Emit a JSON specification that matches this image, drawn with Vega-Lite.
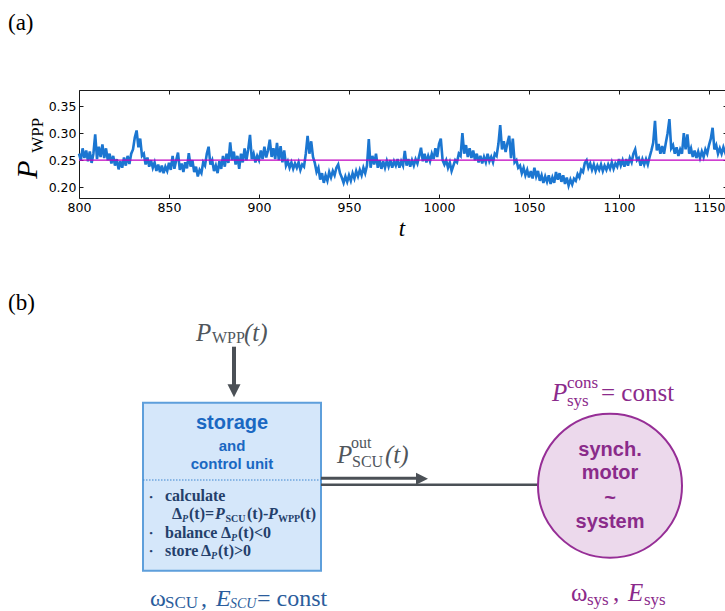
{
"$schema": "https://vega.github.io/schema/vega-lite/v6.json",
"width": 648,
"height": 108,
"padding": 0,
"autosize": {"type": "pad"},
"background": "white",
"datasets": {
"ts": [
{"t":800,"P":0.262},{"t":801,"P":0.250},{"t":802,"P":0.272},{"t":803,"P":0.254},{"t":804,"P":0.268},{"t":805,"P":0.248},{"t":806,"P":0.266},{"t":807,"P":0.245},{"t":808,"P":0.262},{"t":809,"P":0.298},
{"t":810,"P":0.252},{"t":811,"P":0.275},{"t":812,"P":0.256},{"t":813,"P":0.279},{"t":814,"P":0.254},{"t":815,"P":0.272},{"t":816,"P":0.250},{"t":817,"P":0.262},{"t":818,"P":0.244},{"t":819,"P":0.258},
{"t":820,"P":0.240},{"t":821,"P":0.252},{"t":822,"P":0.233},{"t":823,"P":0.248},{"t":824,"P":0.236},{"t":825,"P":0.255},{"t":826,"P":0.240},{"t":827,"P":0.258},{"t":828,"P":0.243},{"t":829,"P":0.262},
{"t":830,"P":0.270},{"t":831,"P":0.292},{"t":832,"P":0.305},{"t":833,"P":0.274},{"t":834,"P":0.290},{"t":835,"P":0.258},{"t":836,"P":0.262},{"t":837,"P":0.242},{"t":838,"P":0.255},{"t":839,"P":0.238},
{"t":840,"P":0.250},{"t":841,"P":0.236},{"t":842,"P":0.246},{"t":843,"P":0.230},{"t":844,"P":0.242},{"t":845,"P":0.228},{"t":846,"P":0.240},{"t":847,"P":0.226},{"t":848,"P":0.238},{"t":849,"P":0.230},
{"t":850,"P":0.245},{"t":851,"P":0.232},{"t":852,"P":0.258},{"t":853,"P":0.234},{"t":854,"P":0.250},{"t":855,"P":0.264},{"t":856,"P":0.232},{"t":857,"P":0.244},{"t":858,"P":0.228},{"t":859,"P":0.246},
{"t":860,"P":0.235},{"t":861,"P":0.263},{"t":862,"P":0.238},{"t":863,"P":0.250},{"t":864,"P":0.228},{"t":865,"P":0.238},{"t":866,"P":0.220},{"t":867,"P":0.232},{"t":868,"P":0.226},{"t":869,"P":0.246},
{"t":870,"P":0.240},{"t":871,"P":0.262},{"t":872,"P":0.275},{"t":873,"P":0.242},{"t":874,"P":0.250},{"t":875,"P":0.230},{"t":876,"P":0.240},{"t":877,"P":0.226},{"t":878,"P":0.248},{"t":879,"P":0.234},
{"t":880,"P":0.258},{"t":881,"P":0.238},{"t":882,"P":0.262},{"t":883,"P":0.245},{"t":884,"P":0.283},{"t":885,"P":0.250},{"t":886,"P":0.266},{"t":887,"P":0.242},{"t":888,"P":0.258},{"t":889,"P":0.234},
{"t":890,"P":0.262},{"t":891,"P":0.246},{"t":892,"P":0.272},{"t":893,"P":0.250},{"t":894,"P":0.270},{"t":895,"P":0.297},{"t":896,"P":0.252},{"t":897,"P":0.262},{"t":898,"P":0.246},{"t":899,"P":0.258},
{"t":900,"P":0.250},{"t":901,"P":0.268},{"t":902,"P":0.252},{"t":903,"P":0.275},{"t":904,"P":0.255},{"t":905,"P":0.268},{"t":906,"P":0.288},{"t":907,"P":0.256},{"t":908,"P":0.272},{"t":909,"P":0.252},
{"t":910,"P":0.282},{"t":911,"P":0.250},{"t":912,"P":0.276},{"t":913,"P":0.246},{"t":914,"P":0.268},{"t":915,"P":0.240},{"t":916,"P":0.248},{"t":917,"P":0.236},{"t":918,"P":0.246},{"t":919,"P":0.234},
{"t":920,"P":0.244},{"t":921,"P":0.236},{"t":922,"P":0.246},{"t":923,"P":0.232},{"t":924,"P":0.242},{"t":925,"P":0.238},{"t":926,"P":0.262},{"t":927,"P":0.295},{"t":928,"P":0.262},{"t":929,"P":0.285},
{"t":930,"P":0.256},{"t":931,"P":0.245},{"t":932,"P":0.228},{"t":933,"P":0.236},{"t":934,"P":0.214},{"t":935,"P":0.226},{"t":936,"P":0.208},{"t":937,"P":0.222},{"t":938,"P":0.212},{"t":939,"P":0.228},
{"t":940,"P":0.218},{"t":941,"P":0.230},{"t":942,"P":0.222},{"t":943,"P":0.236},{"t":944,"P":0.242},{"t":945,"P":0.226},{"t":946,"P":0.218},{"t":947,"P":0.208},{"t":948,"P":0.220},{"t":949,"P":0.210},
{"t":950,"P":0.222},{"t":951,"P":0.212},{"t":952,"P":0.226},{"t":953,"P":0.216},{"t":954,"P":0.230},{"t":955,"P":0.220},{"t":956,"P":0.232},{"t":957,"P":0.222},{"t":958,"P":0.236},{"t":959,"P":0.226},
{"t":960,"P":0.240},{"t":961,"P":0.289},{"t":962,"P":0.236},{"t":963,"P":0.258},{"t":964,"P":0.242},{"t":965,"P":0.262},{"t":966,"P":0.236},{"t":967,"P":0.250},{"t":968,"P":0.234},{"t":969,"P":0.248},
{"t":970,"P":0.236},{"t":971,"P":0.249},{"t":972,"P":0.238},{"t":973,"P":0.250},{"t":974,"P":0.236},{"t":975,"P":0.248},{"t":976,"P":0.240},{"t":977,"P":0.252},{"t":978,"P":0.236},{"t":979,"P":0.248},
{"t":980,"P":0.240},{"t":981,"P":0.267},{"t":982,"P":0.240},{"t":983,"P":0.252},{"t":984,"P":0.238},{"t":985,"P":0.250},{"t":986,"P":0.240},{"t":987,"P":0.252},{"t":988,"P":0.244},{"t":989,"P":0.258},
{"t":990,"P":0.273},{"t":991,"P":0.248},{"t":992,"P":0.262},{"t":993,"P":0.246},{"t":994,"P":0.258},{"t":995,"P":0.248},{"t":996,"P":0.262},{"t":997,"P":0.252},{"t":998,"P":0.272},{"t":999,"P":0.256},
{"t":1000,"P":0.280},{"t":1001,"P":0.290},{"t":1002,"P":0.250},{"t":1003,"P":0.242},{"t":1004,"P":0.250},{"t":1005,"P":0.236},{"t":1006,"P":0.246},{"t":1007,"P":0.230},{"t":1008,"P":0.240},{"t":1009,"P":0.250},
{"t":1010,"P":0.246},{"t":1011,"P":0.262},{"t":1012,"P":0.258},{"t":1013,"P":0.300},{"t":1014,"P":0.262},{"t":1015,"P":0.278},{"t":1016,"P":0.256},{"t":1017,"P":0.272},{"t":1018,"P":0.254},{"t":1019,"P":0.268},
{"t":1020,"P":0.250},{"t":1021,"P":0.262},{"t":1022,"P":0.246},{"t":1023,"P":0.258},{"t":1024,"P":0.244},{"t":1025,"P":0.256},{"t":1026,"P":0.246},{"t":1027,"P":0.262},{"t":1028,"P":0.248},{"t":1029,"P":0.256},
{"t":1030,"P":0.246},{"t":1031,"P":0.262},{"t":1032,"P":0.258},{"t":1033,"P":0.280},{"t":1034,"P":0.315},{"t":1035,"P":0.270},{"t":1036,"P":0.285},{"t":1037,"P":0.265},{"t":1038,"P":0.282},{"t":1039,"P":0.295},
{"t":1040,"P":0.254},{"t":1041,"P":0.290},{"t":1042,"P":0.246},{"t":1043,"P":0.250},{"t":1044,"P":0.236},{"t":1045,"P":0.240},{"t":1046,"P":0.226},{"t":1047,"P":0.236},{"t":1048,"P":0.222},{"t":1049,"P":0.232},
{"t":1050,"P":0.218},{"t":1051,"P":0.230},{"t":1052,"P":0.216},{"t":1053,"P":0.236},{"t":1054,"P":0.220},{"t":1055,"P":0.230},{"t":1056,"P":0.212},{"t":1057,"P":0.222},{"t":1058,"P":0.208},{"t":1059,"P":0.220},
{"t":1060,"P":0.210},{"t":1061,"P":0.222},{"t":1062,"P":0.206},{"t":1063,"P":0.218},{"t":1064,"P":0.208},{"t":1065,"P":0.228},{"t":1066,"P":0.214},{"t":1067,"P":0.226},{"t":1068,"P":0.210},{"t":1069,"P":0.222},
{"t":1070,"P":0.206},{"t":1071,"P":0.218},{"t":1072,"P":0.203},{"t":1073,"P":0.214},{"t":1074,"P":0.205},{"t":1075,"P":0.216},{"t":1076,"P":0.212},{"t":1077,"P":0.224},{"t":1078,"P":0.218},{"t":1079,"P":0.232},
{"t":1080,"P":0.228},{"t":1081,"P":0.245},{"t":1082,"P":0.250},{"t":1083,"P":0.236},{"t":1084,"P":0.244},{"t":1085,"P":0.232},{"t":1086,"P":0.242},{"t":1087,"P":0.230},{"t":1088,"P":0.240},{"t":1089,"P":0.232},
{"t":1090,"P":0.242},{"t":1091,"P":0.230},{"t":1092,"P":0.240},{"t":1093,"P":0.232},{"t":1094,"P":0.242},{"t":1095,"P":0.234},{"t":1096,"P":0.246},{"t":1097,"P":0.234},{"t":1098,"P":0.244},{"t":1099,"P":0.238},
{"t":1100,"P":0.252},{"t":1101,"P":0.240},{"t":1102,"P":0.250},{"t":1103,"P":0.238},{"t":1104,"P":0.252},{"t":1105,"P":0.240},{"t":1106,"P":0.254},{"t":1107,"P":0.246},{"t":1108,"P":0.262},{"t":1109,"P":0.270},
{"t":1110,"P":0.250},{"t":1111,"P":0.254},{"t":1112,"P":0.240},{"t":1113,"P":0.252},{"t":1114,"P":0.242},{"t":1115,"P":0.252},{"t":1116,"P":0.242},{"t":1117,"P":0.256},{"t":1118,"P":0.268},{"t":1119,"P":0.282},
{"t":1120,"P":0.323},{"t":1121,"P":0.268},{"t":1122,"P":0.280},{"t":1123,"P":0.262},{"t":1124,"P":0.276},{"t":1125,"P":0.262},{"t":1126,"P":0.282},{"t":1127,"P":0.300},{"t":1128,"P":0.326},{"t":1129,"P":0.272},
{"t":1130,"P":0.278},{"t":1131,"P":0.262},{"t":1132,"P":0.274},{"t":1133,"P":0.258},{"t":1134,"P":0.270},{"t":1135,"P":0.262},{"t":1136,"P":0.300},{"t":1137,"P":0.270},{"t":1138,"P":0.298},{"t":1139,"P":0.262},
{"t":1140,"P":0.272},{"t":1141,"P":0.256},{"t":1142,"P":0.268},{"t":1143,"P":0.254},{"t":1144,"P":0.266},{"t":1145,"P":0.254},{"t":1146,"P":0.266},{"t":1147,"P":0.256},{"t":1148,"P":0.270},{"t":1149,"P":0.262},
{"t":1150,"P":0.278},{"t":1151,"P":0.290},{"t":1152,"P":0.310},{"t":1153,"P":0.270},{"t":1154,"P":0.278},{"t":1155,"P":0.262},{"t":1156,"P":0.272},{"t":1157,"P":0.262},{"t":1158,"P":0.274},{"t":1159,"P":0.264},
{"t":1160,"P":0.270}
]
},
"layer": [
{
"encoding": {
 "x": {"field": "x", "type": "quantitative", "scale": {"domain": [79, 727], "nice": false, "zero": false}, "axis": null},
 "y": {"field": "y", "type": "quantitative", "scale": {"domain": [89.3, 197.3], "reverse": true, "nice": false, "zero": false}, "axis": null}
},
"layer": [
 {"data": {"values": [{"x": 0, "x2": 725, "y": 0, "y2": 611}]}, "mark": {"type": "rect", "color": "white", "opacity": 0}, "encoding": {"x2": {"field": "x2"}, "y2": {"field": "y2"}}},
 {"data": {"values": [{"x": 143, "x2": 321, "y": 402, "y2": 570}]}, "mark": {"type": "rect", "fill": "#d5e7fa", "stroke": "#5e9fdb", "strokeWidth": 2}, "encoding": {"x2": {"field": "x2"}, "y2": {"field": "y2"}}},
 {"data": {"values": [{"x": 143, "x2": 321, "y": 479.3}]}, "mark": {"type": "rule", "color": "#3d85d0", "strokeWidth": 1.2, "strokeDash": [1.5, 1.5]}, "encoding": {"x2": {"field": "x2"}}},
 {"data": {"values": [{"x": 234, "y": 346, "y2": 386}]}, "mark": {"type": "rule", "color": "#4b5056", "strokeWidth": 4}, "encoding": {"y2": {"field": "y2"}}},
 {"data": {"values": [{"x": 234, "y": 390}]}, "mark": {"type": "point", "shape": "M-1,-1L1,-1L0,1Z", "size": 169, "filled": true, "color": "#4b5056", "opacity": 1}},
 {"data": {"values": [{"x": 321, "x2": 418, "y": 477.5}]}, "mark": {"type": "rule", "color": "#4b5056", "strokeWidth": 3}, "encoding": {"x2": {"field": "x2"}}},
 {"data": {"values": [{"x": 321, "x2": 538, "y": 484}]}, "mark": {"type": "rule", "color": "#4b5056", "strokeWidth": 2.5}, "encoding": {"x2": {"field": "x2"}}},
 {"data": {"values": [{"x": 422, "y": 478}]}, "mark": {"type": "point", "shape": "M-1,-1L1,0L-1,1Z", "size": 144, "filled": true, "color": "#4b5056", "opacity": 1}},
 {"data": {"values": [{"x": 610, "y": 485}]}, "mark": {"type": "point", "shape": "circle", "size": 20736, "filled": true, "fill": "#ecd9ec", "stroke": "#962e96", "strokeWidth": 2, "opacity": 1}},
 {"data": {"values": [{"x": 8, "y": 29, "s": "(a)"}, {"x": 8, "y": 309, "s": "(b)"}]}, "mark": {"type": "text", "font": "Liberation Serif", "fontSize": 23, "color": "black", "align": "left", "baseline": "alphabetic"}, "encoding": {"text": {"field": "s"}}},
 {"data": {"values": [{"x": 37, "y": 178, "s": "P"}]}, "mark": {"type": "text", "font": "Liberation Serif", "fontStyle": "italic", "fontSize": 30, "angle": 270, "color": "black", "align": "left", "baseline": "alphabetic"}, "encoding": {"text": {"field": "s"}}},
 {"data": {"values": [{"x": 43, "y": 152, "s": "WPP"}]}, "mark": {"type": "text", "font": "Liberation Serif", "fontSize": 17, "angle": 270, "color": "black", "align": "left", "baseline": "alphabetic"}, "encoding": {"text": {"field": "s"}}},
 {"data": {"values": [{"x": 402, "y": 235, "s": "t"}]}, "mark": {"type": "text", "font": "Liberation Serif", "fontStyle": "italic", "fontSize": 23, "color": "black", "align": "center", "baseline": "alphabetic"}, "encoding": {"text": {"field": "s"}}},
 {"data": {"values": [{"x": 196, "y": 340, "s": "P"}, {"x": 244, "y": 340, "s": "(t)"}, {"x": 337, "y": 462, "s": "P"}, {"x": 385, "y": 462, "s": "(t)"}]}, "mark": {"type": "text", "font": "Liberation Serif", "fontStyle": "italic", "fontSize": 25, "color": "#50565c", "align": "left", "baseline": "alphabetic"}, "encoding": {"text": {"field": "s"}}},
 {"data": {"values": [{"x": 212, "y": 342, "s": "WPP"}, {"x": 352, "y": 466, "s": "SCU"}, {"x": 351, "y": 447, "s": "out"}]}, "mark": {"type": "text", "font": "Liberation Serif", "fontSize": 16, "color": "#50565c", "align": "left", "baseline": "alphabetic"}, "encoding": {"text": {"field": "s"}}},
 {"data": {"values": [{"x": 552, "y": 400, "s": "P"}, {"x": 628, "y": 600, "s": "E"}]}, "mark": {"type": "text", "font": "Liberation Serif", "fontStyle": "italic", "fontSize": 25, "color": "#8b2a8b", "align": "left", "baseline": "alphabetic"}, "encoding": {"text": {"field": "s"}}},
 {"data": {"values": [{"x": 601, "y": 400, "s": "= const"}, {"x": 571, "y": 600, "s": "ω"}, {"x": 613, "y": 600, "s": ","}]}, "mark": {"type": "text", "font": "Liberation Serif", "fontSize": 25, "color": "#8b2a8b", "align": "left", "baseline": "alphabetic"}, "encoding": {"text": {"field": "s"}}},
 {"data": {"values": [{"x": 567, "y": 387, "s": "cons"}, {"x": 567, "y": 405, "s": "sys"}, {"x": 587, "y": 604, "s": "sys"}, {"x": 644, "y": 604, "s": "sys"}]}, "mark": {"type": "text", "font": "Liberation Serif", "fontSize": 17, "color": "#8b2a8b", "align": "left", "baseline": "alphabetic"}, "encoding": {"text": {"field": "s"}}},
 {"data": {"values": [{"x": 150, "y": 605, "s": "ω"}, {"x": 201, "y": 605, "s": ","}, {"x": 257, "y": 605, "s": "= const"}]}, "mark": {"type": "text", "font": "Liberation Serif", "fontSize": 24, "color": "#2b5d9c", "align": "left", "baseline": "alphabetic"}, "encoding": {"text": {"field": "s"}}},
 {"data": {"values": [{"x": 216, "y": 605, "s": "E"}]}, "mark": {"type": "text", "font": "Liberation Serif", "fontStyle": "italic", "fontSize": 24, "color": "#2b5d9c", "align": "left", "baseline": "alphabetic"}, "encoding": {"text": {"field": "s"}}},
 {"data": {"values": [{"x": 165, "y": 607, "s": "SCU"}]}, "mark": {"type": "text", "font": "Liberation Serif", "fontSize": 17, "color": "#2b5d9c", "align": "left", "baseline": "alphabetic"}, "encoding": {"text": {"field": "s"}}},
 {"data": {"values": [{"x": 230, "y": 607, "s": "SCU"}]}, "mark": {"type": "text", "font": "Liberation Serif", "fontStyle": "italic", "fontSize": 14, "color": "#2b5d9c", "align": "left", "baseline": "alphabetic"}, "encoding": {"text": {"field": "s"}}},
 {"data": {"values": [{"x": 232, "y": 428, "s": "storage"}]}, "mark": {"type": "text", "font": "Liberation Sans", "fontWeight": "bold", "fontSize": 20, "color": "#1a68c2", "align": "center", "baseline": "alphabetic"}, "encoding": {"text": {"field": "s"}}},
 {"data": {"values": [{"x": 232, "y": 450, "s": "and"}, {"x": 232, "y": 468, "s": "control unit"}]}, "mark": {"type": "text", "font": "Liberation Sans", "fontWeight": "bold", "fontSize": 15, "color": "#1a68c2", "align": "center", "baseline": "alphabetic"}, "encoding": {"text": {"field": "s"}}},
 {"data": {"values": [{"x": 151, "y": 496}, {"x": 151, "y": 532.5}, {"x": 151, "y": 550.5}]}, "mark": {"type": "text", "text": "•", "font": "Liberation Serif", "fontWeight": "bold", "fontSize": 9, "color": "#243f6b", "align": "center", "baseline": "middle"}},
 {"data": {"values": [{"x": 165, "y": 500, "s": "calculate"}, {"x": 165, "y": 537, "s": "balance"}, {"x": 165, "y": 555, "s": "store"}, {"x": 172, "y": 518, "s": "Δ"}, {"x": 189, "y": 518, "s": "(t)="}, {"x": 247, "y": 518, "s": "(t)-"}, {"x": 300, "y": 518, "s": "(t)"}, {"x": 221, "y": 537, "s": "Δ"}, {"x": 238, "y": 537, "s": "(t)<0"}, {"x": 201, "y": 555, "s": "Δ"}, {"x": 218, "y": 555, "s": "(t)>0"}]}, "mark": {"type": "text", "font": "Liberation Serif", "fontWeight": "bold", "fontSize": 16, "color": "#243f6b", "align": "left", "baseline": "alphabetic"}, "encoding": {"text": {"field": "s"}}},
 {"data": {"values": [{"x": 215, "y": 518, "s": "P"}, {"x": 268, "y": 518, "s": "P"}]}, "mark": {"type": "text", "font": "Liberation Serif", "fontWeight": "bold", "fontStyle": "italic", "fontSize": 16, "color": "#243f6b", "align": "left", "baseline": "alphabetic"}, "encoding": {"text": {"field": "s"}}},
 {"data": {"values": [{"x": 182, "y": 521, "s": "P"}, {"x": 231, "y": 540, "s": "P"}, {"x": 211, "y": 558, "s": "P"}]}, "mark": {"type": "text", "font": "Liberation Serif", "fontWeight": "bold", "fontStyle": "italic", "fontSize": 10, "color": "#243f6b", "align": "left", "baseline": "alphabetic"}, "encoding": {"text": {"field": "s"}}},
 {"data": {"values": [{"x": 225.5, "y": 521, "s": "SCU"}, {"x": 278, "y": 521, "s": "WPP"}]}, "mark": {"type": "text", "font": "Liberation Serif", "fontWeight": "bold", "fontSize": 10, "color": "#243f6b", "align": "left", "baseline": "alphabetic"}, "encoding": {"text": {"field": "s"}}},
 {"data": {"values": [{"x": 610, "y": 455, "s": "synch."}, {"x": 610, "y": 478, "s": "motor"}, {"x": 610, "y": 503, "s": "~"}, {"x": 610, "y": 527, "s": "system"}]}, "mark": {"type": "text", "font": "Liberation Sans", "fontWeight": "bold", "fontSize": 20, "color": "#8a2b8a", "align": "center", "baseline": "alphabetic"}, "encoding": {"text": {"field": "s"}}}
]
},
{
"data": {"name": "ts"},
"layer": [
 {"mark": {"type": "line", "color": "#1b76d1", "strokeWidth": 2.6},
  "encoding": {
   "x": {"field": "t", "type": "quantitative", "scale": {"domain": [800, 1160], "nice": false, "zero": false},
         "axis": {"orient": "bottom", "values": [800, 850, 900, 950, 1000, 1050, 1100, 1150], "format": "d", "title": null}},
   "y": {"field": "P", "type": "quantitative", "scale": {"domain": [0.18, 0.38], "nice": false, "zero": false},
         "axis": {"orient": "left", "values": [0.2, 0.25, 0.3, 0.35], "format": ".2f", "title": null}}
  }},
 {"data": {"values": [{"t": 800, "P": 0.25}, {"t": 1160, "P": 0.25}]},
  "mark": {"type": "line", "color": "#c000c0", "strokeWidth": 1.2},
  "encoding": {
   "x": {"field": "t", "type": "quantitative", "scale": {"domain": [800, 1160], "nice": false, "zero": false},
         "axis": {"orient": "top", "values": [800, 850, 900, 950, 1000, 1050, 1100, 1150], "labels": false, "title": null}},
   "y": {"field": "P", "type": "quantitative", "scale": {"domain": [0.18, 0.38], "nice": false, "zero": false},
         "axis": {"orient": "right", "values": [0.2, 0.25, 0.3, 0.35], "labels": false, "title": null}}
  }}
],
"resolve": {"axis": {"x": "independent", "y": "independent"}}
}
],
"resolve": {"scale": {"x": "independent", "y": "independent"}},
"config": {
 "view": {"stroke": "#1a1a1a", "strokeWidth": 1},
 "axis": {"labelFont": "DejaVu Sans", "labelFontSize": 12.5, "labelColor": "black", "tickColor": "#1a1a1a", "domain": false, "grid": false, "tickSize": -4, "labelPadding": 7, "labelFlush": false, "labelOverlap": false}
}
}
